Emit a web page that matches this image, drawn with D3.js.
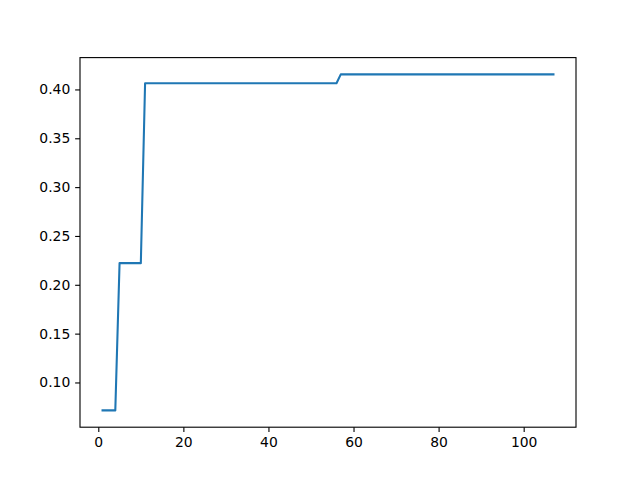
<!DOCTYPE html>
<html>
<head>
<meta charset="utf-8">
<script src="https://cdn.jsdelivr.net/npm/d3@7"></script>
<style>
body{margin:0;background:#fff}
text{font-family:"DejaVu Sans",sans-serif}
</style>
</head>
<body>
<svg id="chart"></svg>
<script>
// values, one per step x = 1..107
var yValues = [
  0.0714,0.0714,0.0714,0.0714,
  0.2222,0.2222,0.2222,0.2222,0.2222,0.2222,
  0.4063,0.4063,0.4063,0.4063,0.4063,0.4063,0.4063,0.4063,0.4063,0.4063,
  0.4063,0.4063,0.4063,0.4063,0.4063,0.4063,0.4063,0.4063,0.4063,0.4063,
  0.4063,0.4063,0.4063,0.4063,0.4063,0.4063,0.4063,0.4063,0.4063,0.4063,
  0.4063,0.4063,0.4063,0.4063,0.4063,0.4063,0.4063,0.4063,0.4063,0.4063,
  0.4063,0.4063,0.4063,0.4063,0.4063,0.4063,
  0.4154,0.4154,0.4154,0.4154,0.4154,0.4154,0.4154,0.4154,0.4154,0.4154,
  0.4154,0.4154,0.4154,0.4154,0.4154,0.4154,0.4154,0.4154,0.4154,0.4154,
  0.4154,0.4154,0.4154,0.4154,0.4154,0.4154,0.4154,0.4154,0.4154,0.4154,
  0.4154,0.4154,0.4154,0.4154,0.4154,0.4154,0.4154,0.4154,0.4154,0.4154,
  0.4154,0.4154,0.4154,0.4154,0.4154,0.4154,0.4154,0.4154,0.4154,0.4154,
  0.4154
]
var xValues = yValues.map((d,i)=>i+1)
var xTicks = [0,20,40,60,80,100]
var yTicks = [0.10,0.15,0.20,0.25,0.30,0.35,0.40]

var width=640, height=480
var margin={left:80,right:64,top:57.6,bottom:52.8}

var svg=d3.select("#chart")
    .attr("width",width)
    .attr("height",height)

var xMin=d3.min(xValues), xMax=d3.max(xValues)
var yMin=d3.min(yValues), yMax=d3.max(yValues)
var xPad=(xMax-xMin)*0.05, yPad=(yMax-yMin)*0.05

var x=d3.scaleLinear()
    .domain([xMin-xPad,xMax+xPad])
    .range([margin.left,width-margin.right])
var y=d3.scaleLinear()
    .domain([yMin-yPad,yMax+yPad])
    .range([height-margin.bottom,margin.top])

var line=d3.line()
    .x((d,i)=>x(xValues[i]))
    .y(d=>y(d))

svg.append("path")
   .datum(yValues)
   .attr("fill","none")
   .attr("stroke","#1f77b4")
   .attr("stroke-width",2.08)
   .attr("stroke-linecap","square")
   .attr("stroke-linejoin","round")
   .attr("d",line)

var xAxis=svg.append("g")
    .attr("transform",`translate(0,${height-margin.bottom})`)
    .call(d3.axisBottom(x).tickValues(xTicks).tickFormat(d3.format("d")).tickSizeInner(4.86).tickSizeOuter(0).tickPadding(4.86))
var yAxis=svg.append("g")
    .attr("transform",`translate(${margin.left},0)`)
    .call(d3.axisLeft(y).tickValues(yTicks).tickFormat(d3.format(".2f")).tickSizeInner(4.86).tickSizeOuter(0).tickPadding(4.86))

svg.selectAll(".domain").remove()
svg.selectAll(".tick line").attr("stroke","#000").attr("stroke-width",1.11)
svg.selectAll(".tick text")
   .attr("fill","#000")
   .style("font-size","13.9px")
   .style("font-family","'DejaVu Sans',sans-serif")

svg.append("rect")
   .attr("x",margin.left)
   .attr("y",margin.top)
   .attr("width",width-margin.left-margin.right)
   .attr("height",height-margin.top-margin.bottom)
   .attr("fill","none")
   .attr("stroke","#000")
   .attr("stroke-width",1.11)
</script>
</body>
</html>
